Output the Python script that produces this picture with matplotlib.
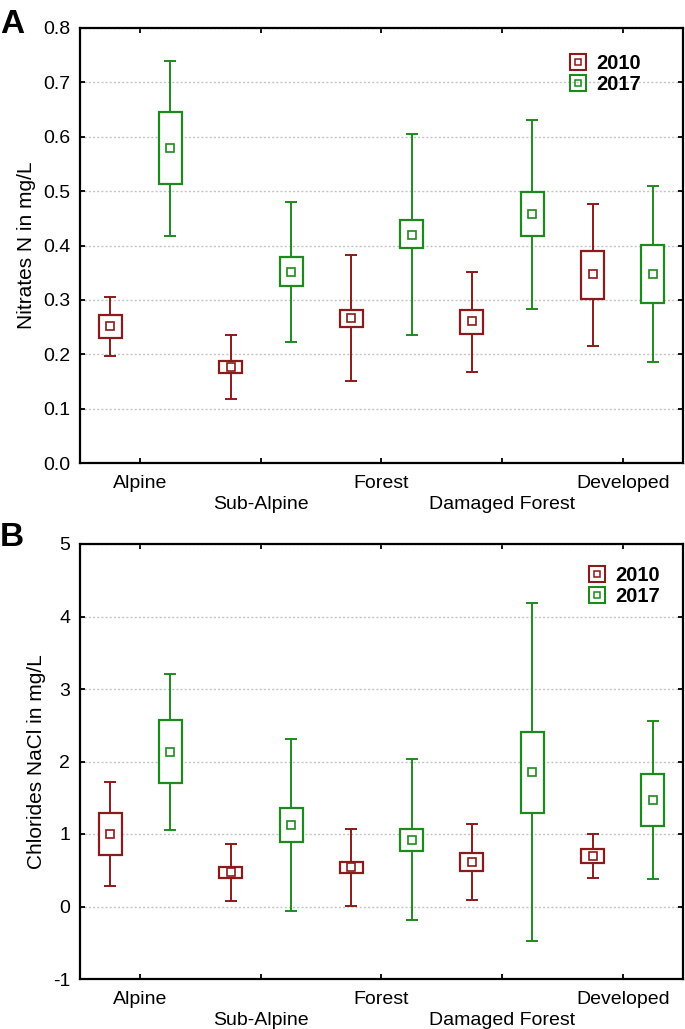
import numpy as np
import matplotlib
matplotlib.use("Agg")
import matplotlib.pyplot as plt
from matplotlib.lines import Line2D

plt.rcParams['font.family'] = ['Liberation Sans', 'DejaVu Sans']
plt.rcParams['axes.unicode_minus'] = False

sites = ["Alpine", "Sub-Alpine", "Forest", "Damaged Forest", "Developed"]
years = ["2010", "2017"]

# panel A - nitrates (whisker low, box low, mean, box high, whisker high)
no3_2010_wlo = [0.197, 0.118, 0.150, 0.168, 0.215]
no3_2010_blo = [0.230, 0.165, 0.250, 0.238, 0.302]
no3_2010_mean = [0.252, 0.177, 0.266, 0.261, 0.347]
no3_2010_bhi = [0.273, 0.188, 0.281, 0.281, 0.389]
no3_2010_whi = [0.306, 0.236, 0.382, 0.352, 0.477]

no3_2017_wlo = [0.418, 0.223, 0.236, 0.284, 0.185]
no3_2017_blo = [0.514, 0.326, 0.395, 0.417, 0.295]
no3_2017_mean = [0.580, 0.352, 0.420, 0.458, 0.348]
no3_2017_bhi = [0.645, 0.378, 0.446, 0.499, 0.401]
no3_2017_whi = [0.740, 0.480, 0.605, 0.631, 0.510]

# panel B - chlorides
cl_2010_wlo = [0.28, 0.07, 0.01, 0.09, 0.40]
cl_2010_blo = [0.71, 0.40, 0.465, 0.488, 0.595]
cl_2010_mean = [1.00, 0.47, 0.544, 0.614, 0.698]
cl_2010_bhi = [1.29, 0.544, 0.609, 0.735, 0.800]
cl_2010_whi = [1.716, 0.86, 1.065, 1.135, 1.005]

cl_2017_wlo = [1.056, -0.065, -0.19, -0.475, 0.386]
cl_2017_blo = [1.698, 0.884, 0.763, 1.288, 1.112]
cl_2017_mean = [2.135, 1.130, 0.916, 1.851, 1.470]
cl_2017_bhi = [2.567, 1.363, 1.070, 2.405, 1.828]
cl_2017_whi = [3.209, 2.316, 2.028, 4.181, 2.553]

RED = "#8B1A1A"
GREEN = "#1E8A1E"

fig = plt.figure(figsize=(6.85, 10.29), dpi=100)
axA = fig.add_axes([80/685, 1-463/1029, 603/685, 435/1029])
axB = fig.add_axes([80/685, 1-979/1029, 603/685, 435/1029])


def draw_group(ax, xs, wlo, blo, mean, bhi, whi, color):
    xs = np.asarray(xs, float)
    mean = np.asarray(mean)
    yerr = [mean - np.asarray(wlo), np.asarray(whi) - mean]
    ax.errorbar(xs, mean, yerr=yerr, fmt='none', ecolor=color, elinewidth=1.4,
                capsize=4.6, capthick=1.4, zorder=2)
    ax.bar(xs, np.asarray(bhi) - np.asarray(blo), bottom=blo, width=0.19,
           facecolor='white', edgecolor=color, linewidth=1.6, zorder=3)
    ax.plot(xs, mean, 's', ms=5.8, mfc='white', mec=color, mew=1.2, ls='', zorder=4)


def style(ax, ylim, yticks, fmt, ylabel, leg_anchor):
    x = np.arange(len(sites))
    ax.set_xlim(-0.5, 4.5)
    ax.set_ylim(*ylim)
    ax.set_yticks(yticks)
    ax.set_yticklabels([fmt.format(v) for v in yticks])
    ax.set_xticks(x)
    ax.set_xticklabels([s if i % 2 == 0 else "\n" + s for i, s in enumerate(sites)],
                       linespacing=1.3)
    ax.tick_params(direction='in', length=3.5, width=1.3, top=True, right=True,
                   labelsize=14, pad=7)
    ax.tick_params(axis='x', pad=9)
    for sp in ax.spines.values():
        sp.set_linewidth(1.6)
    ax.yaxis.grid(True, linestyle=(0, (1.5, 1.5)), color='#c4c4c4', linewidth=1.0)
    ax.set_axisbelow(True)
    ax.set_ylabel(ylabel, fontsize=15, labelpad=5)
    handles = []
    for c in (RED, GREEN):
        outer = Line2D([], [], marker='s', ms=12, mfc='none', mec=c, mew=1.5, ls='')
        inner = Line2D([], [], marker='s', ms=5, mfc='none', mec=c, mew=1.1, ls='')
        handles.append((outer, inner))
    ax.legend(handles, years, loc='upper left', bbox_to_anchor=leg_anchor,
              frameon=False, prop={'weight': 'bold', 'size': 14.5},
              handlelength=0.9, handletextpad=0.45, labelspacing=0.12,
              borderaxespad=0)


x = np.arange(len(sites))
draw_group(axA, x - 0.25, no3_2010_wlo, no3_2010_blo, no3_2010_mean, no3_2010_bhi, no3_2010_whi, RED)
draw_group(axA, x + 0.25, no3_2017_wlo, no3_2017_blo, no3_2017_mean, no3_2017_bhi, no3_2017_whi, GREEN)
style(axA, (0, 0.8), np.round(np.arange(0, 0.81, 0.1), 1), "{:.1f}", "Nitrates N in mg/L",
      ((561 - 80) / 603, 1 - 18 / 435))

draw_group(axB, x - 0.25, cl_2010_wlo, cl_2010_blo, cl_2010_mean, cl_2010_bhi, cl_2010_whi, RED)
draw_group(axB, x + 0.25, cl_2017_wlo, cl_2017_blo, cl_2017_mean, cl_2017_bhi, cl_2017_whi, GREEN)
style(axB, (-1, 5), np.arange(-1, 6, 1), "{:d}", "Chlorides NaCl in mg/L",
      ((580 - 80) / 603, 1 - 14 / 435))

fig.text(0.0, 1 - 33/1029, "A", fontsize=24, fontweight='bold', ha='left', va='baseline')
fig.text(0.0, 1 - 546/1029, "B", fontsize=24, fontweight='bold', ha='left', va='baseline')

fig.savefig("out.png", dpi=100)
